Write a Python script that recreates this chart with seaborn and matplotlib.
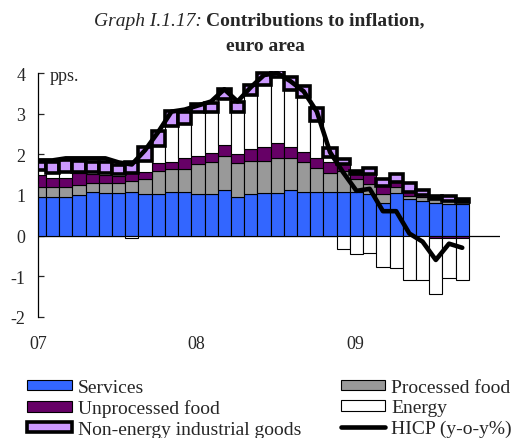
import numpy as np
import pandas as pd
import matplotlib
matplotlib.use("Agg")
import matplotlib.pyplot as plt
import seaborn as sns
from matplotlib.patches import Patch
from matplotlib.lines import Line2D

# monthly data, Jan 2007 - Sep 2009 (contributions in pps.)
months = pd.date_range("2007-01-01", "2009-09-01", freq="MS")

services = [0.96, 0.95, 0.95, 1.00, 1.08, 1.05, 1.05, 1.07, 1.02, 1.02, 1.07, 1.07,
            1.02, 1.02, 1.13, 0.94, 1.02, 1.04, 1.04, 1.12, 1.06, 1.08, 1.06, 1.06,
            1.06, 1.02, 0.81, 1.04, 0.89, 0.84, 0.81, 0.77, 0.77]
processed_food = [0.24, 0.25, 0.25, 0.25, 0.21, 0.24, 0.24, 0.27, 0.37, 0.58, 0.57, 0.57,
                  0.74, 0.78, 0.84, 0.84, 0.82, 0.80, 0.88, 0.80, 0.74, 0.59, 0.49, 0.52,
                  0.33, 0.24, 0.21, 0.16, 0.09, 0.11, 0.08, 0.08, 0.05]
unprocessed_food = [0.30, 0.22, 0.21, 0.29, 0.22, 0.20, 0.18, 0.19, 0.17, 0.18, 0.16, 0.27,
                    0.20, 0.22, 0.27, 0.23, 0.30, 0.35, 0.35, 0.25, 0.26, 0.25, 0.25, 0.18,
                    0.12, 0.25, 0.19, 0.13, 0.10, 0.05, -0.07, -0.07, -0.07]
energy = [0.11, 0.13, 0.16, 0.02, 0.06, 0.05, 0.04, -0.07, 0.27, 0.43, 0.90, 0.84,
          1.07, 1.01, 1.12, 1.04, 1.33, 1.52, 1.62, 1.42, 1.34, 0.90, 0.13, -0.34,
          -0.46, -0.42, -0.77, -0.80, -1.09, -1.09, -1.36, -0.98, -1.02]
neig = [0.19, 0.25, 0.29, 0.28, 0.23, 0.28, 0.22, 0.27, 0.34, 0.37, 0.37, 0.28,
        0.21, 0.23, 0.25, 0.23, 0.23, 0.29, 0.19, 0.30, 0.27, 0.33, 0.22, 0.12,
        0.08, 0.16, 0.19, 0.19, 0.22, 0.12, 0.09, 0.13, 0.07]
hicp = [1.85, 1.85, 1.9, 1.9, 1.9, 1.9, 1.8, 1.75, 2.1, 2.55, 3.05, 3.1,
        3.2, 3.3, 3.6, 3.3, 3.65, 3.95, 4.0, 3.8, 3.55, 3.05, 2.05, 1.55,
        1.1, 1.15, 0.6, 0.6, 0.05, -0.15, -0.6, -0.2, -0.3]

year_labels = ["07", "08", "09"]

sns.set_theme(style="white")
plt.rcParams["font.family"] = ["Liberation Serif", "DejaVu Serif"]
plt.rcParams["axes.unicode_minus"] = False

fig, ax = plt.subplots(figsize=(5.29, 4.39), dpi=100)
fig.subplots_adjust(left=0.0713, right=0.945, top=0.836, bottom=0.276)

x = np.arange(len(months))
series = [
    ("Services", services, "#3366ff", 0.8),
    ("Processed food", processed_food, "#999999", 0.8),
    ("Unprocessed food", unprocessed_food, "#660066", 0.8),
    ("Energy", energy, "white", 0.8),
    ("Non-energy industrial goods", neig, "#cc99ff", 2.6),
]

pos = np.zeros(len(x))
neg = np.zeros(len(x))
for i, (name, vals, col, lw) in enumerate(series):
    v = np.array(vals)
    bottom = np.where(v >= 0, pos, neg)
    ax.bar(x, v, width=1.0, bottom=bottom, color=col, edgecolor="black",
           linewidth=lw, zorder=2 + i * 0.1)
    pos += np.clip(v, 0, None)
    neg += np.clip(v, None, 0)

sns.lineplot(x=x, y=hicp, ax=ax, color="black", linewidth=3.3,
             solid_joinstyle="round", solid_capstyle="round", zorder=5)

ax.axhline(0, color="black", linewidth=0.9, zorder=1)

ax.set_xlim(-0.12, 34.85)
ax.set_ylim(-2, 4.05)
ax.set_yticks(range(-2, 5))
ax.set_xticks([-0.1, 11.9, 23.9])
ax.set_xticklabels(year_labels)
ax.tick_params(axis="x", length=0, pad=13, labelsize=13)
ax.tick_params(axis="y", direction="in", length=4, width=0.9, pad=9, labelsize=13,
               left=True)
for s in ["top", "right", "bottom"]:
    ax.spines[s].set_visible(False)
ax.spines["left"].set_color("black")
ax.spines["left"].set_linewidth(0.9)
ax.spines["left"].set_bounds(-2, 4)
ax.set_xlabel("")
ax.set_ylabel("")

ax.text(0.8, 3.93, "pps.", fontsize=13, va="center", ha="left")

fig.text(0.382, 0.952, "Graph I.1.17:", fontsize=14, style="italic",
         ha="right", va="center")
fig.text(0.389, 0.952, "Contributions to inflation,", fontsize=14,
         fontweight="bold", ha="left", va="center")
fig.text(0.501, 0.893, "euro area", fontsize=14, fontweight="bold",
         ha="center", va="center")

handles = [
    Patch(facecolor="#3366ff", edgecolor="black", linewidth=0.8),
    Patch(facecolor="#660066", edgecolor="black", linewidth=0.8),
    Patch(facecolor="#cc99ff", edgecolor="black", linewidth=2.6),
    Patch(facecolor="#999999", edgecolor="black", linewidth=0.8),
    Patch(facecolor="white", edgecolor="black", linewidth=0.8),
    Line2D([0], [0], color="black", linewidth=3.3),
]
labels = ["Services", "Unprocessed food", "Non-energy industrial goods",
          "Processed food", "Energy", "HICP (y-o-y%)"]
fig.legend(handles, labels, ncol=2, loc="upper left",
           bbox_to_anchor=(0.051, 1 - 380 / 439), frameon=False,
           fontsize=14, handlelength=2.3, handleheight=0.45, handletextpad=0.3,
           labelspacing=0.18, columnspacing=2.05, borderpad=0, borderaxespad=0)

fig.savefig("out.png", dpi=100)
